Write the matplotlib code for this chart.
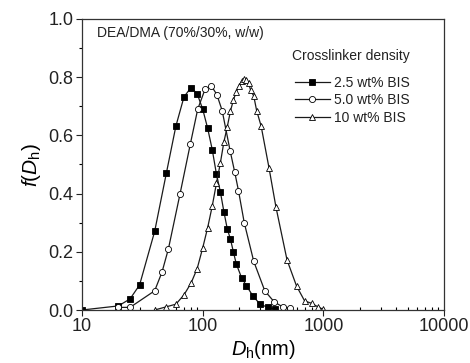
import matplotlib
matplotlib.use("Agg")
import matplotlib.pyplot as plt
from matplotlib.ticker import LogLocator, FixedLocator, NullFormatter
from matplotlib.lines import Line2D

plt.rcParams['font.family'] = ['Liberation Sans', 'DejaVu Sans']
plt.rcParams['mathtext.fontset'] = 'custom'
plt.rcParams['mathtext.it'] = 'Liberation Sans:italic'
plt.rcParams['mathtext.rm'] = 'Liberation Sans'

# Data
x_25 = [10, 20, 25, 30, 40, 50, 60, 70, 80, 90, 100, 110, 120, 130, 140, 150,
        160, 170, 180, 190, 210, 230, 260, 300, 350, 400]
y_25 = [0.0, 0.014, 0.038, 0.086, 0.27, 0.47, 0.632, 0.732, 0.764, 0.743, 0.69,
        0.624, 0.551, 0.467, 0.407, 0.337, 0.278, 0.243, 0.198, 0.158, 0.111,
        0.084, 0.049, 0.019, 0.009, 0.002]

x_50 = [20, 25, 40, 46, 52, 65, 79, 91, 105, 118, 131, 145, 169, 184, 198, 221,
        265, 327, 393, 460, 526]
y_50 = [0.009, 0.009, 0.066, 0.13, 0.21, 0.40, 0.57, 0.69, 0.76, 0.77, 0.74,
        0.685, 0.546, 0.475, 0.41, 0.30, 0.167, 0.066, 0.027, 0.011, 0.006]

x_10 = [40, 50, 60, 70, 80, 90, 100, 110, 120, 130, 140, 150, 160, 170, 180, 190,
        200, 210, 220, 230, 240, 250, 265, 280, 305, 355, 405, 500, 600, 700, 800,
        900, 1000]
y_10 = [0.0, 0.011, 0.02, 0.052, 0.092, 0.142, 0.213, 0.283, 0.357, 0.435, 0.504,
        0.578, 0.63, 0.684, 0.722, 0.75, 0.77, 0.785, 0.792, 0.79, 0.78, 0.754,
        0.735, 0.685, 0.632, 0.487, 0.353, 0.172, 0.082, 0.031, 0.023, 0.011, 0.002]

labels = ["2.5 wt% BIS", "5.0 wt% BIS", "10 wt% BIS"]

fig = plt.figure(figsize=(4.7, 3.63), dpi=100)
ax = fig.add_axes([0.1745, 0.146, 0.7702, 0.802])

lc = '#1a1a1a'
ms = 4.4
ax.plot(x_25, y_25, '-', color=lc, lw=0.9, marker='s', ms=ms, mfc='black', mec='black', mew=0.6)
ax.plot(x_50, y_50, '-', color=lc, lw=0.9, marker='o', ms=ms, mfc='white', mec='black', mew=0.6)
ax.plot(x_10, y_10, '-', color=lc, lw=0.9, marker='^', ms=ms, mfc='white', mec='black', mew=0.6)

ax.set_xscale('log')
ax.set_xlim(10, 10000)
ax.set_ylim(0, 1.0)
ax.set_yticks([0.0, 0.2, 0.4, 0.6, 0.8, 1.0])
ax.set_yticklabels(["0.0", "0.2", "0.4", "0.6", "0.8", "1.0"])
ax.yaxis.set_minor_locator(FixedLocator([0.1, 0.3, 0.5, 0.7, 0.9]))
ax.xaxis.set_major_locator(FixedLocator([10, 100, 1000, 10000]))
ax.set_xticklabels(["10", "100", "1000", "10000"])
ax.xaxis.set_minor_locator(LogLocator(base=10, subs=range(2, 10)))
ax.xaxis.set_minor_formatter(NullFormatter())

ax.tick_params(axis='both', which='major', direction='out', length=4, width=0.8,
               labelsize=13, colors='#222222', pad=2)
ax.tick_params(axis='y', which='minor', direction='out', length=2.5, width=0.8)
ax.tick_params(axis='x', which='minor', direction='in', length=2.5, width=0.8)
for s in ax.spines.values():
    s.set_linewidth(0.9)
    s.set_color('#333333')

ax.set_ylabel(r'$f$($D_{\mathrm{h}}$)', fontsize=15, labelpad=4)
ax.set_xlabel(r'$D_{\mathrm{h}}$(nm)', fontsize=14.5, labelpad=2)

ax.text(0.041, 0.952, "DEA/DMA (70%/30%, w/w)", transform=ax.transAxes,
        fontsize=10, va='center', ha='left', color='#222222')
ax.text(0.58, 0.873, "Crosslinker density", transform=ax.transAxes,
        fontsize=10, va='center', ha='left', color='#222222')

handles = [
    Line2D([], [], color=lc, lw=0.9, marker='s', ms=ms, mfc='black', mec='black', mew=0.6),
    Line2D([], [], color=lc, lw=0.9, marker='o', ms=ms, mfc='white', mec='black', mew=0.6),
    Line2D([], [], color=lc, lw=0.9, marker='^', ms=ms, mfc='white', mec='black', mew=0.6),
]
leg = ax.legend(handles, labels, loc='upper left',
                bbox_to_anchor=(0.588, 0.805), frameon=False, fontsize=10,
                handlelength=2.5, handletextpad=0.3,
                labelspacing=0.25, borderpad=0, borderaxespad=0)
for t in leg.get_texts():
    t.set_color('#222222')

fig.savefig("out.png", dpi=100)
